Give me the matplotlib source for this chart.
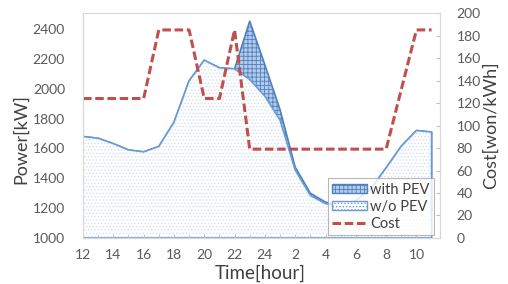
import matplotlib
matplotlib.use("Agg")
import matplotlib.pyplot as plt
from matplotlib.patches import Patch
from matplotlib.lines import Line2D

# hour of day, 12 noon -> 11 next morning (24 = midnight)
hours = list(range(12, 36))
tick_hours = list(range(12, 36, 2))
tick_labels = ["12", "14", "16", "18", "20", "22", "24", "2", "4", "6", "8", "10"]

# power without PEV charging [kW]
base_kw = [1680, 1668, 1632, 1590, 1577, 1613, 1775, 2053, 2191, 2140, 2133, 2062,
           1950, 1790, 1455, 1285, 1230, 1215, 1250, 1330, 1470, 1615, 1720, 1710]
# power with PEV charging [kW]
pev_kw = [1680, 1668, 1632, 1590, 1577, 1613, 1775, 2053, 2191, 2140, 2133, 2453,
          2160, 1860, 1475, 1300, 1240, 1215, 1250, 1330, 1470, 1615, 1720, 1710]
# electricity cost [won/kWh]
cost = [124, 124, 124, 124, 124, 185, 185, 185, 124, 124, 185, 79,
        79, 79, 79, 79, 79, 79, 79, 79, 79, 132, 185, 185]

plt.rcParams["font.family"] = ["Lato", "DejaVu Sans"]
plt.rcParams["hatch.linewidth"] = 0.6

txt = "#595959"
pev_col = "#4f81bd"
base_col = "#6a9bd8"
red = "#c0504d"

fig = plt.figure(figsize=(5.08, 2.84), dpi=100)
ax = fig.add_axes([0.1634, 0.162, 0.7026, 0.792])
ax2 = ax.twinx()

# areas: with PEV behind, w/o PEV on top
ax.fill_between(hours, 1000, pev_kw, facecolor="#b4cbeb", hatch="++++",
                edgecolor=pev_col, linewidth=0)
ax.fill_between(hours, 1000, pev_kw, facecolor="none", edgecolor=pev_col, linewidth=1.2)
ax.fill_between(hours, 1000, base_kw, facecolor="white", hatch=".....",
                edgecolor="#d3e0f2", linewidth=0)
ax.fill_between(hours, 1000, base_kw, facecolor="none", edgecolor=base_col, linewidth=1.2)

ax2.plot(hours, cost, color=red, linewidth=2.2, dashes=(2.8, 1.2))

ax.set_xlim(12, 35.55)
ax.set_ylim(1000, 2507)
ax.set_yticks(range(1000, 2401, 200))
ax.set_xticks(tick_hours)
ax.set_xticklabels(tick_labels)
ax.set_xticks(hours, minor=True)
ax2.set_ylim(0, 200)
ax2.set_yticks(range(0, 201, 20))

for a in (ax, ax2):
    for s in a.spines.values():
        s.set_color("#d9d9d9")
ax.tick_params(axis="y", length=0, pad=13, labelsize=10, labelcolor=txt)
ax.tick_params(axis="x", which="both", direction="in", length=3, color="#bfbfbf",
               pad=8, labelsize=10, labelcolor=txt)
ax2.tick_params(axis="y", direction="in", length=3, color="#bfbfbf", pad=12,
                labelsize=10, labelcolor=txt)

ax.set_ylabel("Power[kW]", fontsize=13, color="#404040")
ax.yaxis.set_label_coords(-0.151, 0.44)
ax2.set_ylabel("Cost[won/kWh]", fontsize=13, color="#404040")
ax2.yaxis.set_label_coords(1.12, 0.5)
ax.set_xlabel("Time[hour]", fontsize=13.5, color="#404040")
ax.xaxis.set_label_coords(0.496, -0.118)

handles = [
    Patch(facecolor="#b4cbeb", hatch="++++", edgecolor=pev_col, linewidth=1),
    Patch(facecolor="white", hatch=".....", edgecolor=base_col, linewidth=1),
    Line2D([], [], color=red, linewidth=2.2, dashes=(2.8, 1.2)),
]
leg = ax2.legend(handles, ["with PEV", "w/o PEV", "Cost"], loc="lower right",
                 bbox_to_anchor=(0.983, 0.013), borderaxespad=0, fontsize=10.5,
                 frameon=True, fancybox=False, handlelength=2.4, handleheight=0.55,
                 handletextpad=0.2, labelspacing=0.2, borderpad=0.3)
leg.get_frame().set_edgecolor("#a6a6a6")
leg.get_frame().set_linewidth(0.8)
for t in leg.get_texts():
    t.set_color("#404040")

fig.savefig("out.png", dpi=100)
